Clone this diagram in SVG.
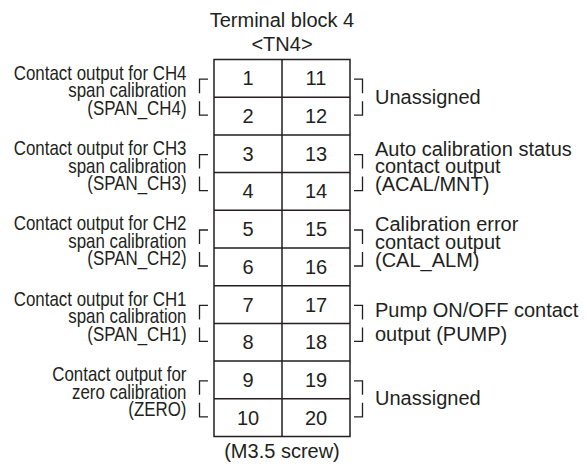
<svg xmlns="http://www.w3.org/2000/svg" width="587" height="464" viewBox="0 0 587 464">
<style>
text{font-family:"Liberation Sans",Arial,sans-serif;font-size:20px;fill:#231f20}
.num{text-anchor:middle}
.grid{fill:none;stroke:#231f20;stroke-width:1.5}
.br{fill:none;stroke:#231f20;stroke-width:1.3}
.lbl text{text-anchor:end}
</style>
<rect width="587" height="464" fill="#fff"/>
<g id="title">
<text class="num" x="282" y="26.7">Terminal block 4</text>
<text class="num" x="282" y="50.7">&lt;TN4&gt;</text>
</g>
<g id="terminal-block">
<rect class="grid" x="214" y="59.5" width="136" height="377"/>
<path class="grid" d="M282 59.5V436.5M214 97.2H350M214 134.9H350M214 172.6H350M214 210.3H350M214 248H350M214 285.7H350M214 323.4H350M214 361.1H350M214 398.8H350"/>
<g id="col-left">
<text class="num" x="248" y="85.35">1</text>
<text class="num" x="248" y="123.05">2</text>
<text class="num" x="248" y="160.75">3</text>
<text class="num" x="248" y="198.45">4</text>
<text class="num" x="248" y="236.15">5</text>
<text class="num" x="248" y="273.85">6</text>
<text class="num" x="248" y="311.55">7</text>
<text class="num" x="248" y="349.25">8</text>
<text class="num" x="248" y="386.95">9</text>
<text class="num" x="248" y="424.65">10</text>
</g>
<g id="col-right">
<text class="num" x="316" y="85.35">11</text>
<text class="num" x="316" y="123.05">12</text>
<text class="num" x="316" y="160.75">13</text>
<text class="num" x="316" y="198.45">14</text>
<text class="num" x="316" y="236.15">15</text>
<text class="num" x="316" y="273.85">16</text>
<text class="num" x="316" y="311.55">17</text>
<text class="num" x="316" y="349.25">18</text>
<text class="num" x="316" y="386.95">19</text>
<text class="num" x="316" y="424.65">20</text>
</g>
</g>
<g id="screw-note">
<text class="num" x="282" y="458">(M3.5 screw)</text>
</g>
<g id="connectors">
<path class="br" d="M208 79.2H199.5V93.2M199.5 101.2V115.2H208"/>
<path class="br" d="M208 154.6H199.5V168.6M199.5 176.6V190.6H208"/>
<path class="br" d="M208 230H199.5V244M199.5 252V266H208"/>
<path class="br" d="M208 305.4H199.5V319.4M199.5 327.4V341.4H208"/>
<path class="br" d="M208 380.8H199.5V394.8M199.5 402.8V416.8H208"/>
<path class="br" d="M354 79.2H362.5V93.2M362.5 101.2V115.2H354"/>
<path class="br" d="M354 154.6H362.5V168.6M362.5 176.6V190.6H354"/>
<path class="br" d="M354 230H362.5V244M362.5 252V266H354"/>
<path class="br" d="M354 305.4H362.5V319.4M362.5 327.4V341.4H354"/>
<path class="br" d="M354 380.8H362.5V394.8M362.5 402.8V416.8H354"/>
</g>
<g id="label-span-ch4" class="lbl" transform="translate(186.5,0) scale(0.845,1)">
<text x="0" y="79.7">Contact output for CH4</text>
<text x="0" y="97.2">span calibration</text>
<text x="0" y="114.7">(SPAN_CH4)</text>
</g>
<g id="label-span-ch3" class="lbl" transform="translate(186.5,0) scale(0.845,1)">
<text x="0" y="155.1">Contact output for CH3</text>
<text x="0" y="172.6">span calibration</text>
<text x="0" y="190.1">(SPAN_CH3)</text>
</g>
<g id="label-span-ch2" class="lbl" transform="translate(186.5,0) scale(0.845,1)">
<text x="0" y="230.5">Contact output for CH2</text>
<text x="0" y="248">span calibration</text>
<text x="0" y="265.5">(SPAN_CH2)</text>
</g>
<g id="label-span-ch1" class="lbl" transform="translate(186.5,0) scale(0.845,1)">
<text x="0" y="305.9">Contact output for CH1</text>
<text x="0" y="323.4">span calibration</text>
<text x="0" y="340.9">(SPAN_CH1)</text>
</g>
<g id="label-zero" class="lbl" transform="translate(186.5,0) scale(0.845,1)">
<text x="0" y="381.3">Contact output for</text>
<text x="0" y="398.8">zero calibration</text>
<text x="0" y="416.3">(ZERO)</text>
</g>
<g id="label-unassigned-1">
<text x="375" y="103.7">Unassigned</text>
</g>
<g id="label-acal">
<text x="375" y="155.6">Auto calibration status</text>
<text x="375" y="173.4">contact output</text>
<text x="375" y="191.2">(ACAL/MNT)</text>
</g>
<g id="label-cal-alm">
<text x="375" y="231">Calibration error</text>
<text x="375" y="248.8">contact output</text>
<text x="375" y="266.6">(CAL_ALM)</text>
</g>
<g id="label-pump">
<text x="375" y="316.8">Pump ON/OFF contact</text>
<text x="375" y="341.1">output (PUMP)</text>
</g>
<g id="label-unassigned-2">
<text x="375" y="405.3">Unassigned</text>
</g>
</svg>
